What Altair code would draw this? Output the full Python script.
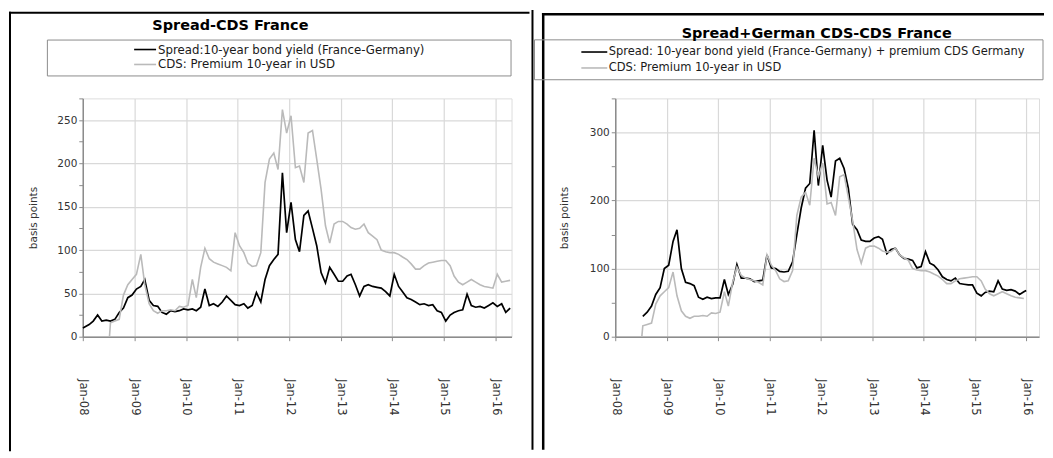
import altair as alt
import pandas as pd

FONT = "DejaVu Sans"
BLACK = "#000000"
GRAY = "#bababa"
AXIS_GRAY = "#8c8c8c"
GRID = "#d9d9d9"
TEXT = "#333333"

# ---------------- text ----------------
titles = ["Spread-CDS France", "Spread+German CDS-CDS France"]
left_legend = ["Spread:10-year bond yield (France-Germany)", "CDS: Premium 10-year in USD"]
right_legend = ["Spread: 10-year bond yield (France-Germany) + premium CDS Germany",
                "CDS: Premium 10-year in USD"]
y_title = "basis points"

# ---------------- data (monthly readings, basis points) ----------------
# Spread 10-year bond yield France-Germany, from Jan 2008
spread_fr_de = [
    10, 14, 18, 25, 18, 19, 18, 20, 28, 33, 45, 48,        # 2008
    55, 58, 66, 42, 36, 35, 28, 26, 30, 29, 30, 32,        # 2009
    31, 32, 30, 34, 55, 36, 38, 35, 40, 47, 42, 37,        # 2010
    36, 38, 33, 36, 51, 40, 66, 82, 89, 95, 189, 120,      # 2011
    155, 112, 98, 140, 145, 125, 105, 74, 62, 80, 72, 64,  # 2012
    64, 70, 72, 60, 47, 58, 60, 58, 57, 56, 52, 47,        # 2013
    72, 58, 52, 45, 43, 40, 37, 38, 36, 37, 30, 28,        # 2014
    18, 25, 28, 30, 31, 49, 36, 34, 35, 33, 36, 39,        # 2015
    35, 38, 28, 33,                                        # 2016
]

# CDS France, premium 10-year in USD, from Jul 2008
cds_start_value = 0
cds_france = [
    16, 18, 20, 48, 60, 66,                                # 2008 Jul-Dec
    72, 95, 60, 38, 30, 27, 30, 30, 31, 30, 35, 34,        # 2009
    36, 66, 45, 80, 102, 90, 86, 84, 82, 80, 76, 120,      # 2010
    105, 97, 85, 81, 82, 97, 178, 205, 212, 193, 262, 235, # 2011
    255, 195, 197, 178, 235, 238, 205, 170, 128, 108, 130, 133,  # 2012
    133, 130, 126, 124, 125, 130, 120, 116, 112, 100, 98, 97,    # 2013
    97, 95, 92, 89, 84, 78, 78, 82, 85, 86, 87, 88,        # 2014
    88, 82, 70, 63, 60, 63, 66, 63, 60, 58, 57, 56,        # 2015
    72, 63, 64, 65,                                        # 2016
]

# Spread + German CDS, from Jul 2008
spread_plus_de_cds = [
    30, 36, 45, 62, 72, 100,                               # 2008 Jul-Dec
    105, 140, 157, 100, 80, 78, 75, 58, 55, 58, 56, 57,    # 2009
    57, 84, 62, 77, 106, 86, 86, 85, 81, 82, 83, 120,      # 2010
    101, 100, 96, 95, 96, 110, 150, 189, 218, 225, 303, 222,     # 2011
    281, 230, 205, 258, 262, 247, 218, 165, 157, 142, 140, 140,  # 2012
    145, 147, 143, 122, 128, 130, 120, 115, 114, 112, 101, 103,  # 2013
    125, 108, 105, 98, 88, 84, 82, 86, 78, 77, 76, 76,     # 2014
    64, 60, 65, 67, 66, 82, 70, 68, 69, 67, 62, 66,        # 2015
    68,                                                    # 2016 Jan
]


def month_dates(year, month, n):
    out = []
    for i in range(n):
        yy = year + (month - 1 + i) // 12
        mm = (month - 1 + i) % 12 + 1
        out.append(f"{yy:04d}-{mm:02d}-15T00:00")
    return out


spread_dates = month_dates(2008, 1, len(spread_fr_de))
spread_dates[0] = "2008-01-02T00:00"
cds_dates = ["2008-07-08T00:00"] + month_dates(2008, 7, len(cds_france))
cds_values = [cds_start_value] + cds_france
plus_dates = month_dates(2008, 7, len(spread_plus_de_cds))
plus_dates[-1] = "2016-01-01T00:00"

df_spread = pd.DataFrame({"date": spread_dates, "value": spread_fr_de})
df_cds = pd.DataFrame({"date": cds_dates, "value": cds_values})
df_plus = pd.DataFrame({"date": plus_dates, "value": spread_plus_de_cds})
df_cds_right = df_cds[df_cds["date"] <= "2016-01-01T00:00"]

one = pd.DataFrame({"k": [0]})


def bar(x, x2, y, y2, color=BLACK):
    # filled rectangle (no stroke, so its bounds are exact)
    return alt.Chart(one).mark_rect(color=color, strokeWidth=0).encode(
        x=alt.value(x), x2=alt.value(x2), y=alt.value(y), y2=alt.value(y2))


def rule(x, x2, y, y2, color=BLACK, width=1.6):
    return alt.Chart(one).mark_rule(color=color, strokeWidth=width).encode(
        x=alt.value(x), x2=alt.value(x2), y=alt.value(y), y2=alt.value(y2))


def text(x, y, s, size=11, bold=False, align="left", color="#1a1a1a"):
    return alt.Chart(one).mark_text(
        font=FONT, fontSize=size, fontWeight="bold" if bold else "normal",
        align=align, baseline="middle", color=color).encode(
        x=alt.value(x), y=alt.value(y), text=alt.value(s))


def panel(df_black, df_gray, x_end, y_max, minor, major, W, H, g, title, legend):
    x_enc = alt.X("date:T",
                  scale=alt.Scale(domain=[alt.DateTime(year=2008, month=1, date=1), x_end]),
                  axis=alt.Axis(format="%b-%y", tickCount={"interval": "year", "step": 1},
                                labelAngle=90, labelAlign="left", labelBaseline="middle",
                                labelPadding=38, tickSize=4, tickColor=AXIS_GRAY,
                                domainColor=AXIS_GRAY, domainWidth=1.5,
                                grid=True, gridColor=GRID, gridWidth=1.2,
                                labelFont=FONT, labelFontSize=11.5, labelColor=TEXT,
                                title=None))
    y_enc = alt.Y("value:Q",
                  scale=alt.Scale(domain=[0, y_max], nice=False, zero=True),
                  axis=alt.Axis(values=list(range(0, y_max + 1, minor)),
                                labelExpr=f"datum.value % {major} == 0 ? datum.label : ''",
                                gridOpacity={"condition": {"test": f"datum.value % {major} == 0",
                                                           "value": 1}, "value": 0},
                                grid=True, gridColor=GRID, gridWidth=1.2,
                                tickSize=4, tickColor=AXIS_GRAY, domainColor=AXIS_GRAY,
                                domainWidth=1.5, labelPadding=2,
                                labelFont=FONT, labelFontSize=10.5, labelColor=TEXT,
                                title=y_title, titleFont=FONT, titleFontSize=10.5,
                                titleFontWeight="normal", titleColor=TEXT,
                                titleX=g["ytitle_x"], titleY=H / 2, titleAngle=270,
                                titleAlign="center", titleBaseline="middle"))
    black = alt.Chart(df_black).mark_line(color=BLACK, strokeWidth=1.7).encode(x=x_enc, y=y_enc)
    gray = alt.Chart(df_gray).mark_line(color=GRAY, strokeWidth=1.6).encode(x=x_enc, y=y_enc)

    layers = [black, gray]
    for (x, x2, y, y2) in g["frame"]:
        layers.append(bar(x, x2, y, y2))
    bx, bx2, by, by2 = g["box"]
    layers.append(alt.Chart(one).mark_rect(filled=False, stroke="#8c8c8c", strokeWidth=1).encode(
        x=alt.value(bx), x2=alt.value(bx2), y=alt.value(by), y2=alt.value(by2)))
    lx, lx2, tx = g["leg_x"]
    for (label, color, yy) in zip(legend, [BLACK, GRAY], g["leg_y"]):
        layers.append(rule(lx, lx2, yy, yy, color, 1.6))
        layers.append(text(tx, yy, label, size=g["leg_size"]))
    layers.append(text(g["title_xy"][0], g["title_xy"][1], title, size=14.5, bold=True,
                       align="center", color="#000000"))
    return alt.layer(*layers).properties(width=W, height=H)


# geometry relative to each plot area's top-left corner
left_geo = {
    "frame": [(-74, -72, -87, 354),       # left border
              (-74, 448, -87, -85)],      # top border
    "box": (-35.5, 429.5, -58.5, -22.5),
    "leg_x": (51.5, 73.5, 75.5),
    "leg_y": (-49, -34),
    "leg_size": 11.8,
    "title_xy": (148, -73),
    "ytitle_x": -49,
}
right_geo = {
    "frame": [(-84, -82, -88.7, 352.3),       # divider between panels
              (-73.5, 430, -85.7, -83.2),     # top border
              (-73.5, -71, -85.7, 352.3)],    # left border
    "box": (-81, 429, -58.7, -18.7),
    "leg_x": (-34, -8, -6.5),
    "leg_y": (-46.5, -30.5),
    "leg_size": 11.5,
    "title_xy": (202, -65),
    "ytitle_x": -51,
}

left = panel(df_spread, df_cds, alt.DateTime(year=2016, month=4, date=25), 275, 25, 50,
             430, 239, left_geo, titles[0], left_legend)
right = panel(df_plus, df_cds_right, alt.DateTime(year=2016, month=4, date=1), 350, 50, 100,
              425, 239, right_geo, titles[1], right_legend)

chart = alt.hconcat(left, right, spacing=0).properties(padding=0).configure_view(
    stroke=AXIS_GRAY, strokeWidth=1.5).configure(background="white")

chart.save("out.html", embed_options={"renderer": "svg", "actions": False})
